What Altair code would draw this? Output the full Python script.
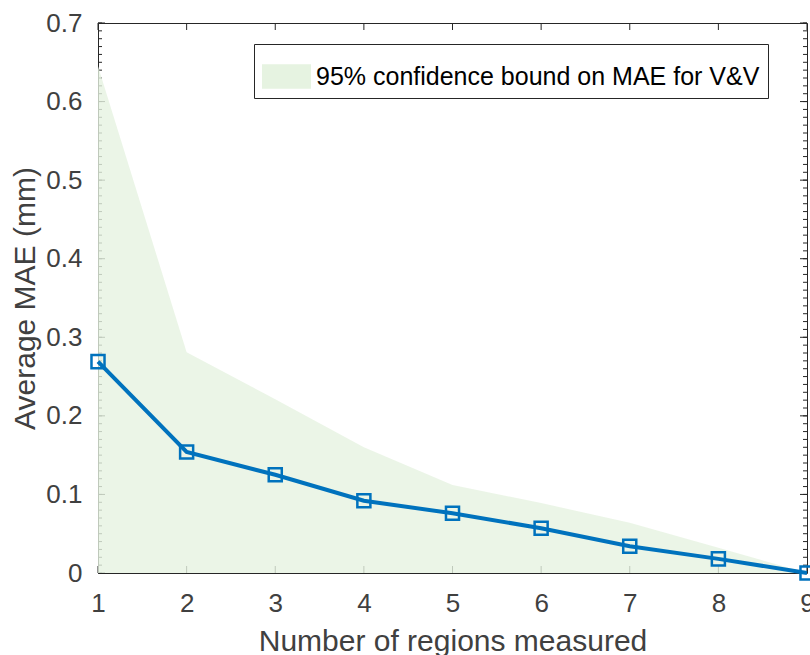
import altair as alt
import pandas as pd

# ---- data ----
regions = [1, 2, 3, 4, 5, 6, 7, 8, 9]
avg_mae = [0.269, 0.154, 0.125, 0.092, 0.076, 0.057, 0.034, 0.018, 0.0]
upper_bound = [0.645, 0.281, 0.221, 0.160, 0.112, 0.089, 0.064, 0.032, 0.0]
legend_label = "95% confidence bound on MAE for V&V"

x_tick_values = [1, 2, 3, 4, 5, 6, 7, 8, 9]
y_major_ticks = [0.0, 0.1, 0.2, 0.3, 0.4, 0.5, 0.6, 0.7]
y_minor_ticks = [round(i * 0.01, 2) for i in range(71)]

df = pd.DataFrame({
    "x": regions,
    "mae": avg_mae,
    "upper": upper_bound,
    "series": [legend_label] * len(regions),
})
xt = pd.DataFrame({"x": x_tick_values})
ymaj = pd.DataFrame({"upper": y_major_ticks})
ymin = pd.DataFrame({"upper": y_minor_ticks})

xs = alt.Scale(domain=[1, 9], nice=False, zero=False)
ys = alt.Scale(domain=[0, 0.7], nice=False)

FONT = "Liberation Sans"
TXT = "#404040"
AX = "#262626"

x_axis = alt.Axis(values=x_tick_values, format="d", title="Number of regions measured",
                  labelBaseline="alphabetic", labelPadding=38,
                  titleBaseline="alphabetic", titleY=77)
y_axis = alt.Axis(values=y_major_ticks,
                  labelExpr="datum.value == 0 ? '0' : format(datum.value, '.1f')",
                  title="Average MAE (mm)", labelPadding=16, titlePadding=5)

# inward ticks (MATLAB style box)
def yticks(data, x0, x1):
    return alt.Chart(data).mark_rule(color=AX, strokeWidth=1).encode(
        y=alt.Y("upper:Q", scale=ys, axis=y_axis), x=alt.value(x0), x2=alt.value(x1))

def xticks(data, y0, y1):
    return alt.Chart(data).mark_rule(color=AX, strokeWidth=1).encode(
        x=alt.X("x:Q", scale=xs, axis=x_axis), y=alt.value(y0), y2=alt.value(y1))

W, H = 709, 550
tick_layers = [
    yticks(ymin, 0, 4), yticks(ymaj, 0, 7),
    yticks(ymin, W, W - 4), yticks(ymaj, W, W - 7),
    xticks(xt, H, H - 7), xticks(xt, 0, 7),
]

area = alt.Chart(df).mark_area(opacity=0.8).encode(
    x=alt.X("x:Q", scale=xs, axis=x_axis),
    y=alt.Y("upper:Q", scale=ys, axis=y_axis),
    y2=alt.datum(0),
    color=alt.Color("series:N",
                    scale=alt.Scale(domain=[legend_label], range=["#e6f3e1"]),
                    legend=alt.Legend(orient="none", legendX=156, legendY=21, title=None,
                                      symbolType="M-1,-0.5H1V0.5H-1Z", symbolSize=2401,
                                      symbolStrokeWidth=0, symbolOpacity=1,
                                      labelFont=FONT, labelFontSize=25, labelColor="black",
                                      labelLimit=1000, labelOffset=5, padding=8,
                                      strokeColor=AX, fillColor="white", cornerRadius=0)),
)

line = alt.Chart(df).mark_line(color="#0072BD", strokeWidth=4).encode(
    x=alt.X("x:Q", scale=xs, axis=x_axis), y=alt.Y("mae:Q", scale=ys, axis=y_axis))

points = alt.Chart(df).mark_point(shape="square", filled=False, size=170, strokeWidth=2.5,
                                  color="#0072BD", opacity=1).encode(
    x=alt.X("x:Q", scale=xs, axis=x_axis), y=alt.Y("mae:Q", scale=ys, axis=y_axis))

chart = alt.layer(*tick_layers, area, line, points).properties(
    width=W, height=H,
    autosize=alt.AutoSizeParams(type="none"),
    padding={"left": 98, "top": 23, "right": 3, "bottom": 82},
    background="white",
).configure_view(stroke=AX, strokeWidth=1).configure_axis(
    domain=False, ticks=False, grid=False,
    labelFont=FONT, labelFontSize=26, labelColor=TXT,
    titleFont=FONT, titleFontSize=30, titleFontWeight="normal", titleColor=TXT,
).configure_axisX(
    labelPadding=38, labelBaseline="alphabetic", labelFlush=False,
)

chart.save("out.html", embed_options={"renderer": "svg", "actions": False})
